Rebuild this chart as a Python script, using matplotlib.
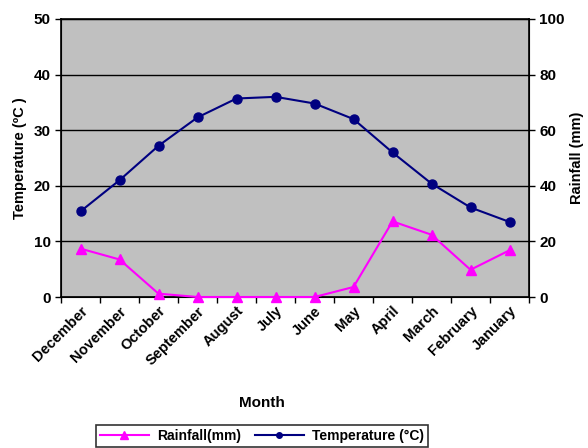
import matplotlib
matplotlib.use("Agg")
import matplotlib.pyplot as plt
from matplotlib.lines import Line2D

plt.rcParams["font.family"] = ["Liberation Sans", "DejaVu Sans"]
plt.rcParams["font.weight"] = "bold"

months = ["December", "November", "October", "September", "August", "July",
          "June", "May", "April", "March", "February", "January"]
temperature = [15.4, 21.0, 27.2, 32.3, 35.7, 36.0, 34.8, 32.0, 26.0, 20.4, 16.1, 13.5]
rainfall = [17.4, 13.5, 1.2, 0, 0, 0, 0, 3.6, 27.2, 22.4, 9.8, 16.8]

fig = plt.figure(figsize=(5.88, 4.48), dpi=100)
ax = fig.add_axes([61 / 588, 1 - 297 / 448, 468 / 588, 278 / 448])
ax.set_facecolor("#C0C0C0")

x = list(range(len(months)))
ax.set_xlim(-0.5, len(months) - 0.5)
ax.set_ylim(0, 50)
ax.set_yticks(range(0, 51, 10))
ax.grid(True, axis="y", color="black", linewidth=1)
ax.set_axisbelow(True)

# ticks sit on category boundaries, labels centred on categories
ax.set_xticks([i - 0.5 for i in range(len(months) + 1)])
ax.set_xticklabels([])
ax.set_xticks(x, minor=True)
ax.set_xticklabels(months, minor=True, rotation=45, ha="right",
                   rotation_mode="anchor", fontsize=10.5, fontweight="bold")
ax.tick_params(axis="x", which="minor", length=0, pad=5)
ax.tick_params(axis="x", which="major", direction="out", length=4, width=1)
ax.tick_params(axis="y", direction="out", length=4, width=1, labelsize=11)
for lbl in ax.get_yticklabels():
    lbl.set_fontweight("bold")
for sp in ax.spines.values():
    sp.set_linewidth(1.2)
    sp.set_color("black")

ax.set_ylabel("Temperature (ºC )", fontsize=10.5, fontweight="bold", labelpad=5)

ax2 = ax.twinx()
ax2.set_ylim(0, 100)
ax2.set_yticks(range(0, 101, 20))
ax2.tick_params(axis="y", direction="out", length=4, width=1, labelsize=11)
for lbl in ax2.get_yticklabels():
    lbl.set_fontweight("bold")
ax2.set_ylabel("Rainfall (mm)", fontsize=10.5, fontweight="bold", labelpad=4)

ax.plot(x, temperature, color="#000080", linewidth=1.5, marker="o",
        markersize=6.5, zorder=5, clip_on=False)
ax2.plot(x, rainfall, color="#FF00FF", linewidth=1.5, marker="^",
         markersize=7.5, zorder=5, clip_on=False)

fig.text(262 / 588, 1 - 403 / 448, "Month", ha="center", va="center",
         fontsize=11, fontweight="bold")

handles = [
    Line2D([0], [0], color="#FF00FF", linewidth=1.5, marker="^", markersize=6),
    Line2D([0], [0], color="#000080", linewidth=1.5, marker="o", markersize=4),
]
leg = fig.legend(handles, ["Rainfall(mm)", "Temperature (°C)"], ncol=2,
                 loc="center", bbox_to_anchor=(262 / 588, 1 - 436 / 448),
                 frameon=True, fancybox=False, edgecolor="black",
                 fontsize=10, handlelength=3.5, columnspacing=1.0,
                 borderpad=0.3, handletextpad=0.6)
leg.get_frame().set_linewidth(1.2)
for t in leg.get_texts():
    t.set_fontweight("bold")

fig.savefig("out.png", dpi=100)
